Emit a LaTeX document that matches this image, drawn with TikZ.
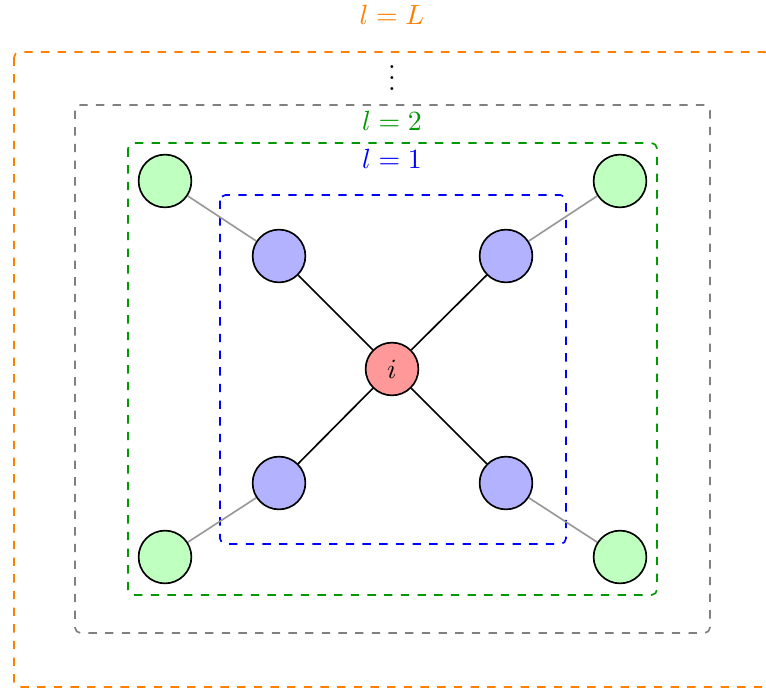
\documentclass[tikz,border=0pt]{standalone}
\begin{document}
\begin{tikzpicture}[x=0.36pt,y=-0.36pt,
  hop/.style={circle,draw=black,semithick,minimum size=19pt,inner sep=0pt},
  center/.style={hop,fill=red!40},
  first/.style={hop,fill=blue!30},
  second/.style={hop,fill=green!25},
  ring/.style={dashed,semithick,rounded corners=2pt},
  inner link/.style={semithick,black},
  outer link/.style={semithick,gray!80}]
\useasboundingbox (0,0) rectangle (766,691);

% neighbourhood boxes, one per hop level
\draw[ring,orange] (14,52) rectangle (770,687);
\draw[ring,gray] (75,105) rectangle (710,633);
\draw[ring,green!60!black] (128,143) rectangle (657,595);
\draw[ring,blue] (220,195) rectangle (566,544);

% level labels
\node[text=orange] (lL) at (392,15) {$l=L$};
\node (dots) at (392,70) {$\vdots$};
\node[text=green!60!black] (l2) at (392,121) {$l=2$};
\node[text=blue] (l1) at (392,159) {$l=1$};

% nodes
\node[center] (i) at (392,369) {$i$};
\node[first] (b1) at (279,256) {};
\node[first] (b2) at (506,256) {};
\node[first] (b3) at (279,483) {};
\node[first] (b4) at (506,483) {};
\node[second] (g1) at (165,181) {};
\node[second] (g2) at (620,181) {};
\node[second] (g3) at (165,557) {};
\node[second] (g4) at (620,557) {};

% edges
\foreach \b in {b1,b2,b3,b4} \draw[inner link] (i) -- (\b);
\draw[outer link] (b1) -- (g1);
\draw[outer link] (b2) -- (g2);
\draw[outer link] (b3) -- (g3);
\draw[outer link] (b4) -- (g4);
\end{tikzpicture}
\end{document}
